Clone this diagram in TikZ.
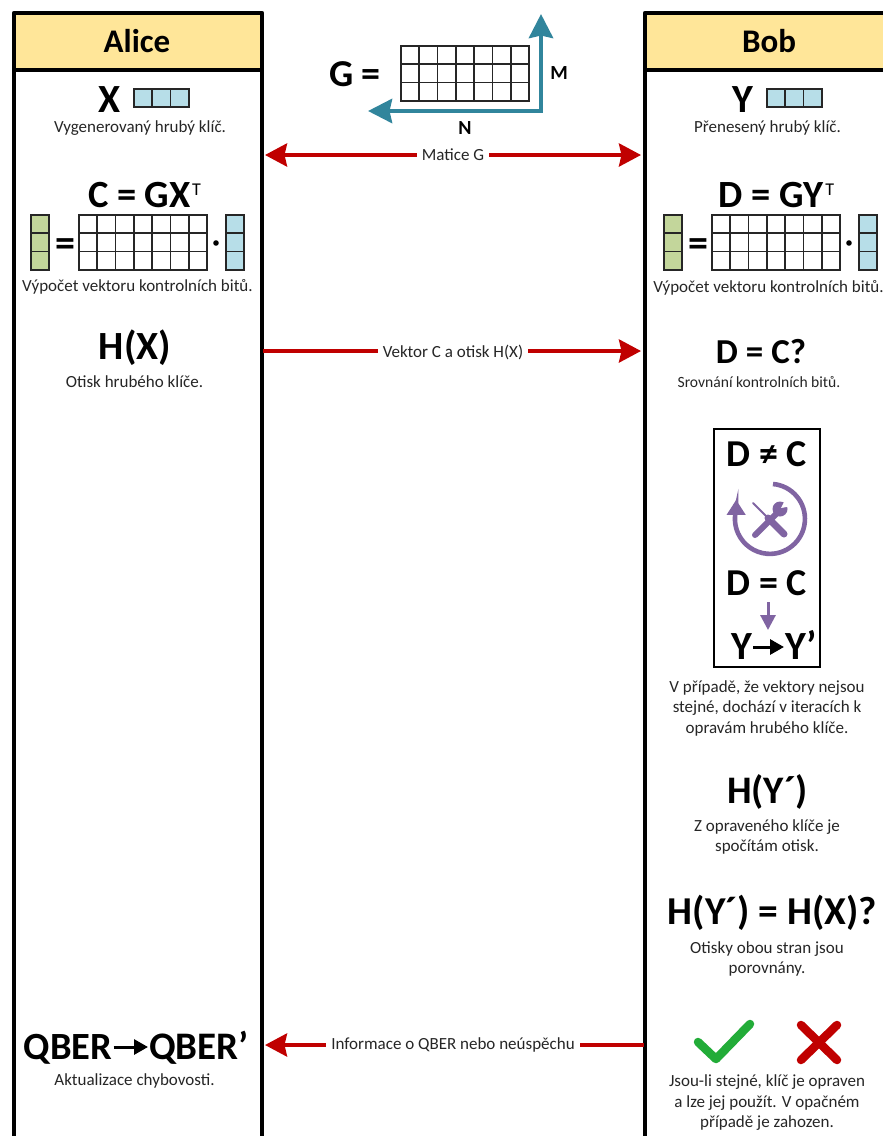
\documentclass[tikz,border=0pt]{standalone}
\usepackage{fontspec}
\setmainfont{Carlito}
\usetikzlibrary{positioning,arrows.meta,calc}
\definecolor{headcolor}{RGB}{255, 230, 153}
\definecolor{keycolor}{RGB}{183, 222, 232}
\definecolor{parcolor}{RGB}{195, 214, 155}
\definecolor{redcolor}{RGB}{192, 0, 0}
\definecolor{tealcolor}{RGB}{49, 133, 156}
\definecolor{purplecolor}{RGB}{128, 100, 162}
\definecolor{okcolor}{RGB}{34, 172, 56}
\definecolor{capcolor}{RGB}{38, 38, 38}
\tikzset{
    laneline/.style={line width=4.5pt, line join=round},
    cellline/.style={line width=1.7pt, draw=black!85},
    msgarrow/.style={line width=3.8pt, redcolor, -{Stealth[length=22pt, width=23pt, inset=2.5pt]}},
    msgboth/.style={line width=3.8pt, redcolor, {Stealth[length=22pt, width=23pt, inset=2.5pt]}-{Stealth[length=22pt, width=23pt, inset=2.5pt]}},
    msglabel/.style={fill=white, text=capcolor, font=\fontsize{17}{20}\selectfont, inner sep=5pt},
    caption/.style={text=capcolor, font=\fontsize{#1}{20.5}\selectfont, align=center, inner sep=0pt},
    caption/.default=17,
    lanetitle/.style={font=\fontsize{33}{36}\selectfont\bfseries, inner sep=0pt},
    formula/.style={font=\fontsize{#1}{44}\selectfont\bfseries, inner sep=0pt, text height=33pt, text depth=8pt},
    formula/.default=38,
    sizearrow/.style={line width=4.6pt, tealcolor, -{Stealth[length=24pt, width=24pt, inset=2.5pt]}},
    sizelabel/.style={font=\fontsize{20}{22}\selectfont\bfseries, inner sep=0pt},
    toolline/.style={purplecolor, line cap=round},
    swaparrow/.style={line width=3pt, -{Triangle[length=14pt, width=15pt]}, shorten <=1pt, shorten >=1pt},
}
\newcommand{\cellgrid}[5]{%
    \foreach \i in {1,...,#3}
        \foreach \j in {1,...,#4}
            \draw[cellline, fill=#5] ({#1+(\i-1)*18.3},{#2+(\j-1)*18.3}) rectangle +(18.3,18.3);
}
\newcommand{\supT}{\kern1.5pt\raisebox{12pt}{\fontsize{18}{18}\selectfont\mdseries T}}

\begin{document}
\begin{tikzpicture}[x=1pt, y=-1pt]
    \useasboundingbox (0,0) rectangle (883,1136);
    \fill[white] (0,0) rectangle (883,1136);

    % Alice lane (header and two side lines)
    \fill[headcolor] (14,13) rectangle (262,70);
    \draw[laneline] (14,1140) -- (14,13) -- (262,13) -- (262,1140);
    \draw[laneline] (14,70) -- (262,70);
    \node[lanetitle] (alice) at (137,41) {Alice};

    % Bob lane (open on the right, cut by the page)
    \fill[headcolor] (645,13) rectangle (885,70);
    \draw[laneline] (645,1140) -- (645,13) -- (885,13);
    \draw[laneline] (645,70) -- (885,70);
    \node[lanetitle] (bob) at (769,41) {Bob};

    % Matrix G with its sizes
    \node[formula] (gname) at (355,74) {G =};
    \cellgrid{401}{46}{7}{3}{white}
    \coordinate (corner) at (541,111);
    \coordinate (mtip) at (541,14);
    \coordinate (ntip) at (368,111);
    \draw[sizearrow] (corner) -- (mtip);
    \draw[sizearrow] (corner) -- (ntip);
    \fill[tealcolor] (538.7,108.7) rectangle (543.3,113.3);
    \node[sizelabel] (mlabel) at (559,73) {M};
    \node[sizelabel] (nlabel) at (465,128) {N};

    % Alice: raw key
    \node[formula=40] (xname) at (110,99.5) {X};
    \cellgrid{134}{89}{3}{1}{keycolor}
    \node[caption] (xcap) at (140,128) {Vygenerovaný hrubý klíč.};

    % Alice: check bits
    \node[formula=38.5] (cname) at (144.5,195) {C = GX\supT};
    \cellgrid{31}{215}{1}{3}{parcolor}
    \node[formula=40] (ceq) at (65,243.5) {=};
    \cellgrid{79}{215}{7}{3}{white}
    \fill (216,243) circle (2.8);
    \cellgrid{226}{215}{1}{3}{keycolor}
    \node[caption] (ccap) at (137.5,287) {Výpočet vektoru kontrolních bitů.};

    % Alice: hash
    \node[formula=40] (hname) at (135,347) {H(X)};
    \node[caption] (hcap) at (134.5,382) {Otisk hrubého klíče.};

    % Alice: QBER update
    \node[formula=38.5, anchor=east] (qold) at (112.5,1047) {QBER};
    \node[formula=39, anchor=west] (qnew) at (149,1047) {QBER’};
    \draw[swaparrow] (qold.east) -- (qnew.west);
    \node[caption] (qcap) at (134.5,1081) {Aktualizace chybovosti.};

    % Bob: raw key
    \node[formula=40] (yname) at (743,100) {Y};
    \cellgrid{767}{89}{3}{1}{keycolor}
    \node[caption] (ycap) at (767.5,128) {Přenesený hrubý klíč.};

    % Bob: check bits
    \node[formula=38.5] (dname) at (776.5,195) {D = GY\supT};
    \cellgrid{664}{215}{1}{3}{parcolor}
    \node[formula=40] (deq) at (698,243.5) {=};
    \cellgrid{712}{215}{7}{3}{white}
    \fill (849,243) circle (2.8);
    \cellgrid{859}{215}{1}{3}{keycolor}
    \node[caption] (dcap) at (768.5,288) {Výpočet vektoru kontrolních bitů.};

    % Bob: comparison
    \node[formula=35] (cmp) at (761,351) {D = C?};
    \node[caption=15.6] (cmpcap) at (759,382) {Srovnání kontrolních bitů.};

    % Bob: correction box
    \draw[line width=1.5pt] (714,429) rectangle (820,667);
    \node[formula] (neq) at (767,454) {D ≠ C};
    \draw[toolline, line width=4.6pt, line cap=butt, -{Triangle[length=15pt, width=18pt]}] (773,484) arc[start angle=-85, end angle=195, radius=35] -- ++(0,-10);
    % wrench and screwdriver
    \draw[toolline, line width=2pt] (753,503) -- (768,518);
    \draw[toolline, line width=7pt] (768,518) -- (784,534);
    \draw[toolline, line width=6pt] (755,535) -- (778,512);
    \fill[purplecolor] (780,509) circle (7.5);
    \fill[white] (781,508) -- (786,498) -- (792,506) -- cycle;
    \node[formula] (eqc) at (767,583) {D = C};
    \coordinate (fixtop) at (768,602);
    \coordinate (fixend) at (768,630);
    \draw[purplecolor, line width=3pt, -{Triangle[length=15pt, width=15pt]}] (fixtop) -- (fixend);
    \node[formula=40, anchor=east] (yold) at (752,647) {Y};
    \node[formula=40, anchor=west] (ynew) at (785,647) {Y’};
    \draw[swaparrow] (yold.east) -- (ynew.west);
    \node[caption] (fixcap) at (767,708) {V případě, že vektory nejsou\\stejné, dochází v iteracích k\\opravám hrubého klíče.};

    % Bob: new hash
    \node[formula=39] (hy) at (767.5,791) {H(Y´)};
    \node[caption] (hycap) at (767,837) {Z opraveného klíče je\\spočítám otisk.};

    % Bob: hash comparison
    \node[formula=39.5] (hcmp) at (772.5,912) {H(Y´) = H(X)?};
    \node[caption] (hcmpcap) at (767,959) {Otisky obou stran jsou\\porovnány.};

    % Bob: outcome marks
    \draw[okcolor, line width=8.5pt, line cap=round, line join=round] (698,1042) -- (716,1059) -- (750,1024);
    \draw[redcolor, line width=8.5pt, line cap=round] (801,1025) -- (837,1060);
    \draw[redcolor, line width=8.5pt, line cap=round] (837,1025) -- (801,1060);
    \node[caption] (endcap) at (767,1103) {Jsou-li stejné, klíč je opraven\\a lze jej použít. V opačném\\případě je zahozen.};

    % Messages between the lanes
    \coordinate (ga) at (265,155);
    \coordinate (gb) at (641,155);
    \draw[msgboth] (ga) -- (gb);
    \node[msglabel] (gmsg) at (453,155) {Matice G};
    \coordinate (va) at (263,351);
    \coordinate (vb) at (641,351);
    \draw[msgarrow] (va) -- (vb);
    \node[msglabel] (vmsg) at (453,352) {Vektor C a otisk H(X)};
    \coordinate (qb) at (644,1045);
    \coordinate (qa) at (265,1045);
    \draw[msgarrow] (qb) -- (qa);
    \node[msglabel] (qmsg) at (453,1045) {Informace o QBER nebo neúspěchu};
\end{tikzpicture}
\end{document}
